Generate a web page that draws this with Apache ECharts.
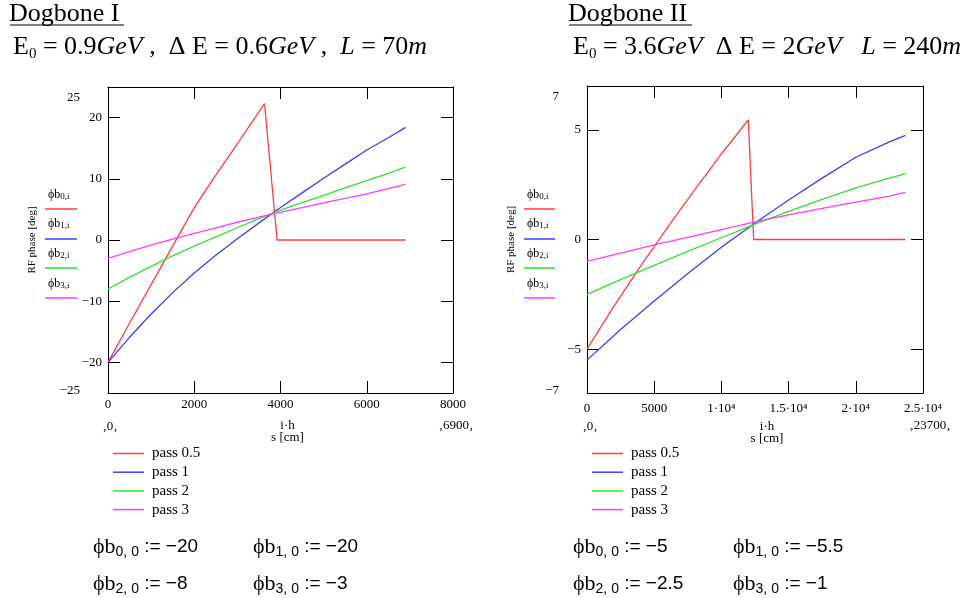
<!DOCTYPE html>
<html>
<head>
<meta charset="utf-8">
<script src="https://cdn.jsdelivr.net/npm/echarts@6/dist/echarts.min.js"></script>
<style>html,body{margin:0;padding:0;background:#fff}#c{width:967px;height:598px}</style>
</head>
<body>
<div id="c"></div>
<script>
// ---------- Data ----------
const SERIES_NAMES = ['pass 0.5', 'pass 1', 'pass 2', 'pass 3'];
const COLORS = ['#ff3b3b', '#3b3bff', '#2fe02f', '#ff3bff'];

// Dogbone I  (s in cm, phase in deg)
const L_S = [0, 500, 1000, 1500, 2000, 2500, 3000, 3500, 4000, 4500, 5000, 5500, 6000, 6500, 6900];
const L_S_PASS05 = [0, 500, 1000, 1500, 2000, 2500, 3000, 3630, 3920, 6900];
const L_PASS05 = [-20, -13.6, -7.3, -1.0, 5.3, 10.6, 15.7, 22.3, 0, 0];
const L_PASS1 = [-20, -15.9, -12.1, -8.6, -5.4, -2.5, 0.2, 2.8, 5.3, 7.7, 10.1, 12.4, 14.7, 16.7, 18.4];
const L_PASS2 = [-8, -6.1, -4.3, -2.6, -1.0, 0.5, 2.0, 3.5, 4.9, 6.1, 7.3, 8.5, 9.7, 10.9, 11.9];
const L_PASS3 = [-3, -1.9, -0.85, 0.15, 1.1, 2.0, 2.9, 3.75, 4.55, 5.3, 6.05, 6.8, 7.55, 8.4, 9.1];
const L_Y_LABELS = [-25, -20, -10, 0, 10, 20, 25];
const L_Y_TICKS = [-20, -10, 0, 10, 20];
const L_X_LABELS = [0, 2000, 4000, 6000, 8000];

// Dogbone II
const R_S = [0, 2500, 5000, 7500, 10000, 12500, 15000, 17500, 20000, 22500, 23700];
const R_S_PASS05 = [0, 2000, 4000, 6000, 8000, 10000, 12000, 12400, 23700];
const R_PASS05 = [-5, -3.05, -1.2, 0.55, 2.25, 3.9, 5.45, 0, 0];
const R_PASS1 = [-5.5, -4.1, -2.8, -1.55, -0.35, 0.75, 1.8, 2.8, 3.75, 4.45, 4.75];
const R_PASS2 = [-2.5, -1.83, -1.18, -0.54, 0.08, 0.7, 1.28, 1.83, 2.35, 2.8, 3.0];
const R_PASS3 = [-1, -0.62, -0.25, 0.1, 0.45, 0.8, 1.12, 1.42, 1.7, 1.98, 2.15];
const R_Y_LABELS = [-7, -5, 0, 5, 7];
const R_Y_TICKS = [-5, 0, 5];
const R_X_LABELS = [0, 5000, 10000, 15000, 20000, 25000];

// Initial values shown under each chart
const L_INIT = ['−20', '−20', '−8', '−3'];
const R_INIT = ['−5', '−5.5', '−2.5', '−1'];

// ---------- Build ----------
const FONT = 'Liberation Serif';
const SANS = 'Liberation Sans';
const BLACK = '#000';
const zip = (xs, ys) => xs.map((x, i) => [x, ys[i]]);
const minus = v => (v < 0 ? '−' + Math.abs(v) : String(v));

function yLabelFmt(lo, hi) {
  return v => {
    if (v === hi) return '{top|' + minus(v) + '}';
    if (v === lo) return '{bot|' + minus(v) + '}';
    return minus(v);
  };
}
const yRich = {
  top: { fontFamily: FONT, fontSize: 13, color: BLACK, padding: [22, 22, 0, 0] },
  bot: { fontFamily: FONT, fontSize: 13, color: BLACK, padding: [0, 22, 4, 0] }
};
const tickStyle = { show: true, inside: true, length: 12, lineStyle: { color: BLACK, width: 1 } };
const lineStyleAx = { show: true, onZero: false, lineStyle: { color: BLACK, width: 1 } };

function xAxes(grid, max, interval, labels, fmt, margin, namePad) {
  return [
    {
      gridIndex: grid, type: 'value', position: 'bottom', min: 0, max: max, interval: interval,
      axisLine: lineStyleAx, axisTick: tickStyle, splitLine: { show: false },
      axisLabel: { customValues: labels, formatter: fmt, fontFamily: FONT, fontSize: 13, color: BLACK, margin: margin },
      name: 'i·h\ns [cm]', nameLocation: 'middle', nameGap: 27,
      nameTextStyle: { fontFamily: FONT, fontSize: 13, color: BLACK, lineHeight: 12, padding: [0, 0, 0, namePad] }
    },
    {
      gridIndex: grid, type: 'value', position: 'top', min: 0, max: max, interval: interval,
      axisLine: lineStyleAx, axisTick: tickStyle, splitLine: { show: false }, axisLabel: { show: false }
    }
  ];
}
function yAxes(grid, lo, hi, interval, labels, ticks) {
  return [
    {
      gridIndex: grid, type: 'value', position: 'left', min: lo, max: hi, interval: interval,
      axisLine: lineStyleAx, axisTick: Object.assign({ customValues: ticks }, tickStyle), splitLine: { show: false },
      axisLabel: { customValues: labels, formatter: yLabelFmt(lo, hi), rich: yRich, fontFamily: FONT, fontSize: 13, color: BLACK, margin: 6 },
      name: 'RF phase [deg]', nameLocation: 'middle', nameGap: 70, nameRotate: 90,
      nameTextStyle: { fontFamily: FONT, fontSize: 11, color: BLACK }
    },
    {
      gridIndex: grid, type: 'value', position: 'right', min: lo, max: hi, interval: interval,
      axisLine: lineStyleAx, axisTick: Object.assign({ customValues: ticks }, tickStyle), splitLine: { show: false },
      axisLabel: { show: false }
    }
  ];
}

const rFmt = v => (v === 0 ? '0' : v === 5000 ? '5000' : (v / 10000) + '·10⁴');

const leftData = [zip(L_S_PASS05, L_PASS05), zip(L_S, L_PASS1), zip(L_S, L_PASS2), zip(L_S, L_PASS3)];
const rightData = [zip(R_S_PASS05, R_PASS05), zip(R_S, R_PASS1), zip(R_S, R_PASS2), zip(R_S, R_PASS3)];

const series = [];
[leftData, rightData].forEach((set, g) => {
  set.forEach((d, i) => {
    series.push({
      type: 'line', name: SERIES_NAMES[i], xAxisIndex: g * 2, yAxisIndex: g * 2,
      data: d, showSymbol: false, symbol: 'none', silent: true,
      lineStyle: { color: COLORS[i], width: 1.3 }, itemStyle: { color: COLORS[i] }
    });
  });
});

function legend(left) {
  return {
    left: left, top: 441, orient: 'vertical', icon: 'rect', itemWidth: 31, itemHeight: 1.5,
    itemGap: 3.7, selectedMode: false, data: SERIES_NAMES,
    textStyle: { fontFamily: FONT, fontSize: 15, color: BLACK, padding: [2, 0, 0, 3] }
  };
}

// graphic: titles, trace labels, init equations
const graphics = [];
function text(x, y, str, rich, extra) {
  graphics.push({
    type: 'text', x: x, y: y, silent: true,
    style: Object.assign({ text: str, rich: rich, fontFamily: FONT, fill: BLACK, verticalAlign: 'middle', align: 'left' }, extra || {})
  });
}
function hline(x1, x2, y, color, w) {
  graphics.push({ type: 'line', silent: true, shape: { x1: x1, y1: y, x2: x2, y2: y }, style: { stroke: color, lineWidth: w } });
}

const titleRich = {
  t: { fontFamily: FONT, fontSize: 26, color: BLACK }
};
const eqRich = {
  r: { fontFamily: FONT, fontSize: 26, color: BLACK, lineHeight: 30 },
  i: { fontFamily: FONT, fontSize: 26, fontStyle: 'italic', color: BLACK, lineHeight: 30 },
  s: { fontFamily: FONT, fontSize: 15, color: BLACK, lineHeight: 15, verticalAlign: 'bottom' }
};
text(9, 14, '{t|Dogbone I}', titleRich);
hline(10, 124, 25, BLACK, 1);
text(13, 47, '{r|E}{s|0}{r| = 0.9}{i|GeV}{r| ,  Δ E = 0.6}{i|GeV}{r| ,  }{i|L}{r| = 70}{i|m}', eqRich);

text(568, 14, '{t|Dogbone II}', titleRich);
hline(569, 692, 25, BLACK, 1);
text(573, 47, '{r|E}{s|0}{r| = 3.6}{i|GeV}{r|  Δ E = 2}{i|GeV}{r|   }{i|L}{r| = 240}{i|m}', eqRich);

// trace labels beside the y axis
const traceRich = {
  p: { fontFamily: FONT, fontSize: 12, color: BLACK, lineHeight: 13 },
  s: { fontFamily: FONT, fontSize: 9, color: BLACK, lineHeight: 9, verticalAlign: 'bottom' }
};
const LEFT_LBL_Y = [195, 224, 254, 284];
const LINE_Y = [209, 239, 268, 298];
[[48, 45, 77], [527, 524, 555]].forEach(([tx, lx1, lx2]) => {
  for (let i = 0; i < 4; i++) {
    text(tx, LEFT_LBL_Y[i], '{p|ϕb}{s|' + i + ',i}', traceRich);
    hline(lx1, lx2, LINE_Y[i], COLORS[i], 1.5);
  }
});

// Mathcad range placeholders
const phRich = { p: { fontFamily: FONT, fontSize: 13, color: BLACK } };
text(110, 427, '{p|‚0‚}', phRich, { align: 'center' });
text(456, 426, '{p|‚6900‚}', phRich, { align: 'center' });
text(590, 427, '{p|‚0‚}', phRich, { align: 'center' });
text(930, 426, '{p|‚23700‚}', phRich, { align: 'center' });

// initial value equations
const initRich = {
  p: { fontFamily: SANS, fontSize: 19, color: BLACK, lineHeight: 24 },
  f: { fontFamily: FONT, fontSize: 22, color: BLACK, lineHeight: 24 },
  s: { fontFamily: SANS, fontSize: 14, color: BLACK, lineHeight: 14, verticalAlign: 'bottom' }
};
[[93, 253, L_INIT], [573, 733, R_INIT]].forEach(([x1, x2, vals]) => {
  text(x1, 547, '{f|ϕb}{s|0, 0}{p| := ' + vals[0] + '}', initRich);
  text(x2, 547, '{f|ϕb}{s|1, 0}{p| := ' + vals[1] + '}', initRich);
  text(x1, 584, '{f|ϕb}{s|2, 0}{p| := ' + vals[2] + '}', initRich);
  text(x2, 584, '{f|ϕb}{s|3, 0}{p| := ' + vals[3] + '}', initRich);
});

const option = {
  animation: false,
  backgroundColor: '#fff',
  grid: [
    { left: 108, top: 87, width: 345, height: 306 },
    { left: 587, top: 86, width: 336, height: 307 }
  ],
  xAxis: [].concat(
    xAxes(0, 8000, 2000, L_X_LABELS, v => String(v), 5, 14),
    xAxes(1, 25000, 5000, R_X_LABELS, rFmt, 9, 24)
  ),
  yAxis: [].concat(
    yAxes(0, -25, 25, 5, L_Y_LABELS, L_Y_TICKS),
    yAxes(1, -7, 7, 1, R_Y_LABELS, R_Y_TICKS)
  ),
  legend: [legend(108), legend(587)],
  series: series,
  graphic: graphics
};

const chart = echarts.init(document.getElementById('c'));
chart.setOption(option);
</script>
</body>
</html>
